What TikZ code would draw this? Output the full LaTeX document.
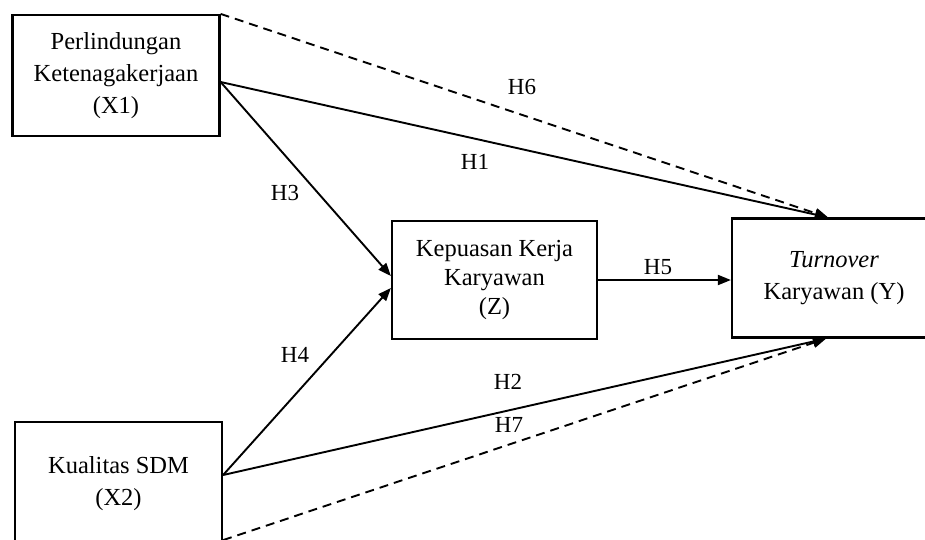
\documentclass[tikz,border=0pt]{standalone}
\usepackage{fontspec}
\setmainfont{Liberation Serif}
\usetikzlibrary{arrows.meta}
\begin{document}
\begin{tikzpicture}[x=1pt,y=-1pt,
  varbox/.style={draw, line width=2.2pt, inner sep=0pt, align=center,
    font=\fontsize{24.5}{32}\selectfont},
  link/.style={line width=1.9pt, -{Triangle[length=13pt,width=10pt]}},
  dlink/.style={link, dash pattern=on 9pt off 6pt},
  hlabel/.style={font=\fontsize{23}{28}\selectfont, inner sep=0pt}]
\useasboundingbox (0,0) rectangle (925,539);
\fill[white] (0,0) rectangle (925,539);

\node[varbox, minimum width=207pt, minimum height=121pt] (x1) at (116,75.5)
  {Perlindungan\\Ketenagakerjaan\\(X1)};
\node[varbox, minimum width=207pt, minimum height=123pt] (x2) at (118.5,483.5)
  {Kualitas SDM\\(X2)};
\node[varbox, minimum width=205pt, minimum height=118pt,
  font=\fontsize{24.5}{29}\selectfont] (z) at (494.5,280)
  {Kepuasan Kerja\\Karyawan\\(Z)};
\node[varbox, minimum width=204pt, minimum height=119pt] (y) at (834,278)
  {\textit{Turnover}\\Karyawan (Y)};

\coordinate (x1o) at ([yshift=-6.5pt]x1.east);
\coordinate (x2o) at ([yshift=8.5pt]x2.east);
\coordinate (x2b) at ([yshift=6pt]x2.south east);
\coordinate (ytop) at ([xshift=-6pt]y.north);
\coordinate (ybot) at ([xshift=-8pt]y.south);

\draw[dlink] (x1.north east) -- (ytop);
\draw[link] (x1o) -- (ytop);
\draw[link] (x1o) -- ([yshift=4pt]z.west);
\draw[link] (x2o) -- ([yshift=-8pt]z.west);
\draw[link] (x2o) -- (ybot);
\draw[dlink] (x2b) -- (ybot);
\draw[link] (z.east) -- (z.east -| y.west);

\node[hlabel] (h6) at (522,87) {H6};
\node[hlabel] (h1) at (475,162) {H1};
\node[hlabel] (h3) at (285,193) {H3};
\node[hlabel] (h5) at (658,267) {H5};
\node[hlabel] (h4) at (295,355) {H4};
\node[hlabel] (h2) at (508,382) {H2};
\node[hlabel] (h7) at (509,425) {H7};
\end{tikzpicture}
\end{document}
